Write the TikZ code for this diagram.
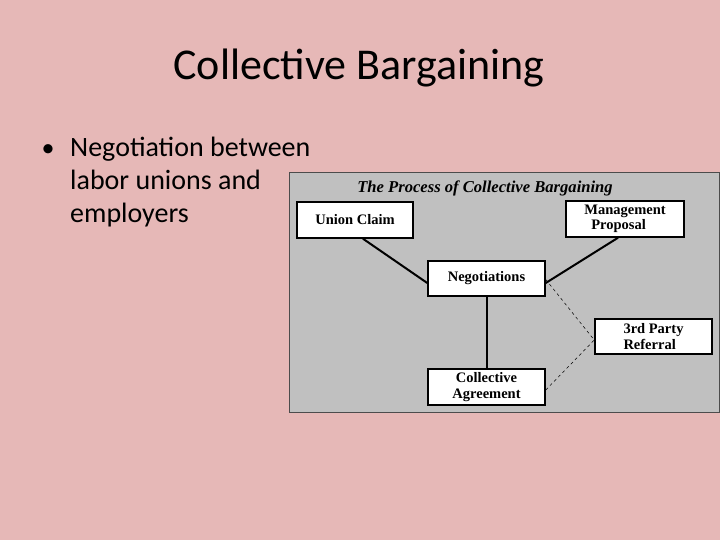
\documentclass[tikz,border=0pt]{standalone}
\usepackage{fontspec}
\setmainfont{Carlito}
\newfontfamily\diafont{Liberation Serif}
\usepackage{xcolor}
\usepackage{tikz}
\usetikzlibrary{positioning}
\usetikzlibrary{calc}

\definecolor{slidepink}{RGB}{230,184,183}
\definecolor{panelgray}{RGB}{192,192,192}

\begin{document}
\begin{tikzpicture}[x=1pt, y=-1pt,
    box/.style={draw=black, line width=1.5pt, fill=white, inner sep=2pt,
                font=\diafont\bfseries\fontsize{14.5}{15.5}\selectfont},
    link/.style={line width=2pt},
    refer/.style={dash pattern=on 3pt off 3pt, line width=0.5pt}]
  \useasboundingbox[fill=slidepink] (0,0) rectangle (720,540);
  % slide text
  \node[font=\fontsize{44}{52}\selectfont] (title) at (359,68) {Collective Bargaining};
  \node[font=\fontsize{26}{33}\selectfont] (bul) at (48,151) {•};
  \node[anchor=north west, align=left, inner sep=0pt,
        font=\fontsize{28}{33}\selectfont] (pts) at (70,137)
    {Negotiation between\\labor unions and\\employers};
  % panel
  \node[draw=black!70, line width=0.6pt, fill=panelgray, minimum width=430,
        minimum height=240, inner sep=0pt] (panel) at (504,292) {};
  \node[font=\diafont\bfseries\itshape\fontsize{16.6}{18}\selectfont] (head) at (485,188)
    {The Process of Collective Bargaining};
  \node[box, minimum width=116, minimum height=36] (claim) at (355,220) {Union Claim\hspace{8pt}};
  \node[box, minimum width=118, minimum height=36, align=left] (mgmt) at (625,219)
    {Management\\\hspace{7pt}Proposal};
  \node[box, minimum width=117, minimum height=35] (neg) at (486.5,278.5) {Negotiations\hspace{6pt}};
  \node[box, minimum width=117, minimum height=35, align=left] (ref) at (653.5,336.5)
    {3rd Party\\Referral\hspace{14pt}};
  \node[box, minimum width=117, minimum height=36, align=center] (agree) at (486.5,387)
    {Collective\\Agreement};
  % connectors
  \draw[link] ([xshift=8]claim.south) -- ([yshift=-4.5]neg.west);
  \draw[link] ([xshift=-7]mgmt.south) -- ([yshift=-4.5]neg.east);
  \draw[link] (neg.south) -- (agree.north);
  \draw[refer] ([yshift=-1]neg.east) -- ([yshift=-3.5]ref.west);
  \draw[refer] ([yshift=-3]agree.east) -- ([yshift=-3.5]ref.west);
\end{tikzpicture}
\end{document}
